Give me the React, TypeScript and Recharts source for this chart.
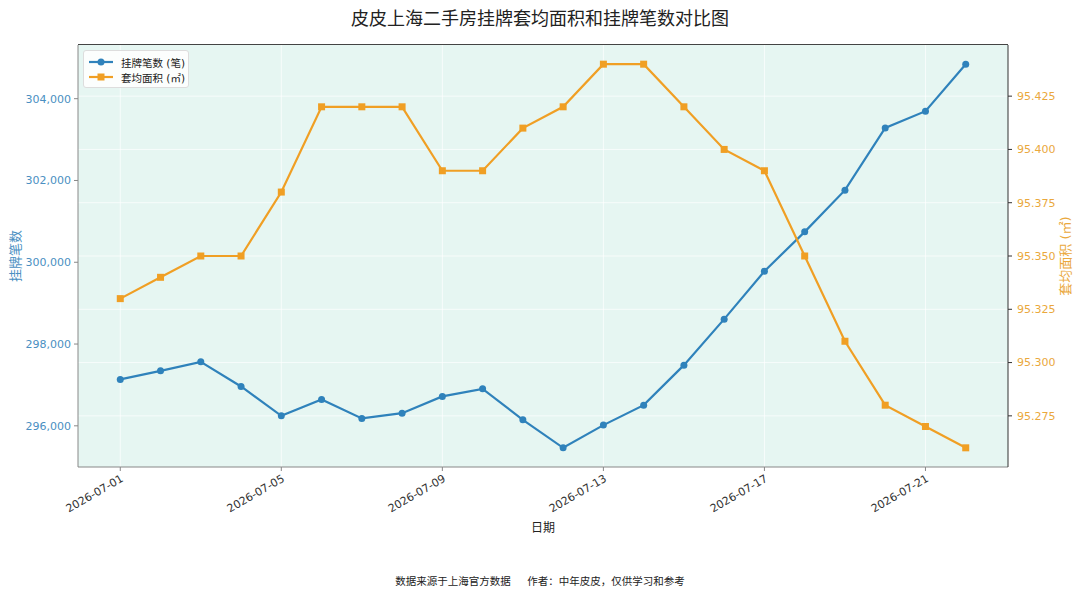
import React from "react";
import { LineChart, Line, XAxis, YAxis, CartesianGrid } from "recharts";

const DATES = [
  "2026-07-01", "2026-07-02", "2026-07-03", "2026-07-04", "2026-07-05", "2026-07-06",
  "2026-07-07", "2026-07-08", "2026-07-09", "2026-07-10", "2026-07-11", "2026-07-12",
  "2026-07-13", "2026-07-14", "2026-07-15", "2026-07-16", "2026-07-17", "2026-07-18",
  "2026-07-19", "2026-07-20", "2026-07-21", "2026-07-22",
];

const LISTINGS = [
  297134, 297345, 297565, 296963, 296245, 296645, 296181, 296310, 296719, 296905, 296147,
  295462, 296017, 296506, 297484, 298609, 299782, 300743, 301763, 303286, 303694, 304844,
];

const AVG_AREA = [
  95.33, 95.34, 95.35, 95.35, 95.38, 95.42, 95.42, 95.42, 95.39, 95.39, 95.41,
  95.42, 95.44, 95.44, 95.42, 95.4, 95.39, 95.35, 95.31, 95.28, 95.27, 95.26,
];

const X_TICKS = [0, 4, 8, 12, 16, 20];
const LEFT_TICKS = [296000, 298000, 300000, 302000, 304000];
const RIGHT_TICKS = [95.275, 95.3, 95.325, 95.35, 95.375, 95.4, 95.425];

const BLUE = "#2f82bb";
const ORANGE = "#f09f24";
const BLUE_TEXT = "#4a8fc2";
const ORANGE_TEXT = "#eaa83c";
const FONT = "'DejaVu Sans', 'Noto Sans CJK SC', sans-serif";

const rows = DATES.map((date, i) => ({
  idx: i,
  date,
  listings: LISTINGS[i],
  area: AVG_AREA[i],
}));

// matplotlib style 5% padding around the data
const padded = ([min, max]: [number, number]): [number, number] => {
  const r = max - min;
  return [min - r * 0.05, max + r * 0.05];
};

const DateTick = (props: any) => {
  const { x, y, payload } = props;
  return (
    <g transform={`translate(${x},${y})`}>
      <text
        x={0}
        y={0}
        dy="0.71em"
        textAnchor="end"
        transform="rotate(-30)"
        fontSize={11}
        fill="#333"
        fontFamily={FONT}
      >
        {DATES[payload.value]}
      </text>
    </g>
  );
};

const SquareDot = (props: any) => {
  const { cx, cy, index } = props;
  if (cx == null || cy == null) return null;
  return <rect key={index} x={cx - 3.5} y={cy - 3.5} width={7} height={7} fill={ORANGE} />;
};

export default function App() {
  return (
    <div
      style={{
        position: "absolute",
        left: 0,
        top: 0,
        width: 1080,
        height: 595,
        background: "#fff",
        fontFamily: FONT,
      }}
    >
      <div
        style={{
          position: "absolute",
          top: 4,
          left: 0,
          width: 1080,
          textAlign: "center",
          fontSize: 18,
          color: "#222",
        }}
      >
        皮皮上海二手房挂牌套均面积和挂牌笔数对比图
      </div>

      <LineChart
        width={1080}
        height={595}
        data={rows}
        margin={{ top: 45, right: 0, bottom: 0, left: 0 }}
      >
        <CartesianGrid
          yAxisId="right"
          fill="#e6f6f2"
          fillOpacity={1}
          stroke="#ffffff"
          strokeOpacity={0.7}
          horizontalValues={RIGHT_TICKS}
          verticalValues={X_TICKS}
        />
        <XAxis
          dataKey="idx"
          type="number"
          domain={[-1.05, 22.05]}
          ticks={X_TICKS}
          height={128}
          tick={<DateTick />}
          tickSize={4}
          tickMargin={3}
          stroke="#888"
          interval={0}
        />
        <YAxis
          yAxisId="left"
          orientation="left"
          width={78}
          domain={padded}
          ticks={LEFT_TICKS}
          tickSize={4}
          tickMargin={3}
          stroke="#888"
          tick={{ fill: BLUE_TEXT, fontSize: 11, fontFamily: FONT }}
          tickFormatter={(v: number) => v.toLocaleString("en-US")}
        />
        <YAxis
          yAxisId="right"
          orientation="right"
          width={72}
          domain={padded}
          ticks={RIGHT_TICKS}
          tickSize={4}
          tickMargin={5}
          stroke="#333"
          tick={{ fill: ORANGE_TEXT, fontSize: 11, fontFamily: FONT }}
          tickFormatter={(v: number) => v.toFixed(3)}
        />
        <Line
          yAxisId="left"
          dataKey="listings"
          type="linear"
          stroke={BLUE}
          strokeWidth={2.2}
          dot={{ r: 3.5, fill: BLUE, stroke: BLUE, strokeWidth: 0 }}
          activeDot={false}
          isAnimationActive={false}
        />
        <Line
          yAxisId="right"
          dataKey="area"
          type="linear"
          stroke={ORANGE}
          strokeWidth={2.2}
          dot={<SquareDot />}
          activeDot={false}
          isAnimationActive={false}
        />
      </LineChart>

      {/* top spine */}
      <div
        style={{
          position: "absolute",
          left: 78,
          top: 44,
          width: 930,
          height: 0,
          borderTop: "1.5px solid #444",
          pointerEvents: "none",
        }}
      />

      {/* legend */}
      <div
        style={{
          position: "absolute",
          left: 83,
          top: 50,
          width: 104,
          height: 36,
          background: "rgba(255,255,255,0.85)",
          border: "1px solid #ddd",
          borderRadius: 3,
          fontSize: 10.5,
          color: "#222",
        }}
      >
        {[
          { name: "挂牌笔数 (笔)", color: BLUE, square: false },
          { name: "套均面积 (㎡)", color: ORANGE, square: true },
        ].map((item, i) => (
          <div
            key={item.name}
            style={{ position: "absolute", left: 5, top: 4 + i * 15, height: 14, display: "flex", alignItems: "center" }}
          >
            <svg width={26} height={14}>
              <line x1={0} y1={7} x2={24} y2={7} stroke={item.color} strokeWidth={2.2} />
              {item.square ? (
                <rect x={8.5} y={3.5} width={7} height={7} fill={item.color} />
              ) : (
                <circle cx={12} cy={7} r={3.5} fill={item.color} />
              )}
            </svg>
            <span style={{ marginLeft: 6, whiteSpace: "nowrap" }}>{item.name}</span>
          </div>
        ))}
      </div>

      {/* axis labels */}
      <div
        style={{
          position: "absolute",
          left: 14,
          top: 256,
          transform: "translate(-50%, -50%) rotate(-90deg)",
          fontSize: 13,
          color: BLUE_TEXT,
          whiteSpace: "nowrap",
        }}
      >
        挂牌笔数
      </div>
      <div
        style={{
          position: "absolute",
          left: 1064,
          top: 256,
          transform: "translate(-50%, -50%) rotate(-90deg)",
          fontSize: 13,
          color: ORANGE_TEXT,
          whiteSpace: "nowrap",
        }}
      >
        套均面积 (㎡)
      </div>
      <div
        style={{
          position: "absolute",
          left: 543,
          top: 526,
          transform: "translate(-50%, -50%)",
          fontSize: 12,
          color: "#222",
        }}
      >
        日期
      </div>

      {/* footer */}
      <div
        style={{
          position: "absolute",
          left: 0,
          top: 573,
          width: 1080,
          textAlign: "center",
          fontSize: 10.5,
          color: "#222",
          whiteSpace: "pre",
        }}
      >
        {"数据来源于上海官方数据     作者：中年皮皮，仅供学习和参考"}
      </div>
    </div>
  );
}
